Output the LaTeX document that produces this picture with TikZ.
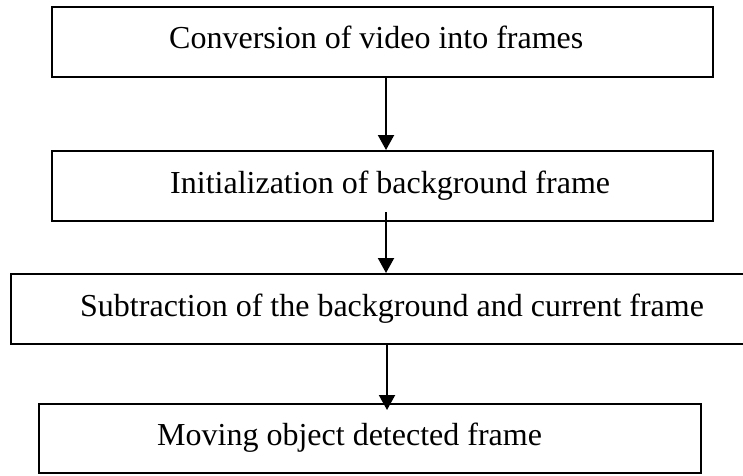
\documentclass[tikz,border=0pt]{standalone}
\usepackage{fontspec}
\setmainfont{Liberation Serif}
\usetikzlibrary{arrows.meta}
\begin{document}
\begin{tikzpicture}[x=1pt,y=-1pt,
  stepbox/.style={draw=black,line width=2pt,inner sep=0pt,fill=white},
  steplabel/.style={anchor=base west,inner sep=0pt,font=\fontsize{32}{38}\selectfont},
  flow/.style={line width=2pt,-{Triangle[width=16pt,length=15pt]}}]
\useasboundingbox (0,0) rectangle (743,475);
\clip (0,0) rectangle (743,475);
\fill[white] (0,0) rectangle (743,475);
% process boxes
\node[stepbox,minimum width=661pt,minimum height=70pt] (b1) at (382.5,42) {};
\node[stepbox,minimum width=661pt,minimum height=70pt] (b2) at (382.5,186) {};
\node[stepbox,minimum width=750pt,minimum height=70pt] (b3) at (386,309) {};
\node[stepbox,minimum width=662pt,minimum height=69pt] (b4) at (370,438.5) {};
% box texts
\node[steplabel] (t1) at (169,48) {Conversion of video into frames};
\node[steplabel] (t2) at (170,193) {Initialization of background frame};
\node[steplabel] (t3) at (80,316) {Subtraction of the background and current frame};
\node[steplabel] (t4) at (157,445) {Moving object detected frame};
% arrow guides
\coordinate (ax) at (386,0);
\coordinate (s2) at (386,212);
\coordinate (e3) at (387,410);
% connectors
\draw[flow] (b1.south -| ax) -- (b2.north -| ax);
\draw[flow] (s2) -- (b3.north -| s2);
\draw[flow] (b3.south -| e3) -- (e3);
\end{tikzpicture}
\end{document}
